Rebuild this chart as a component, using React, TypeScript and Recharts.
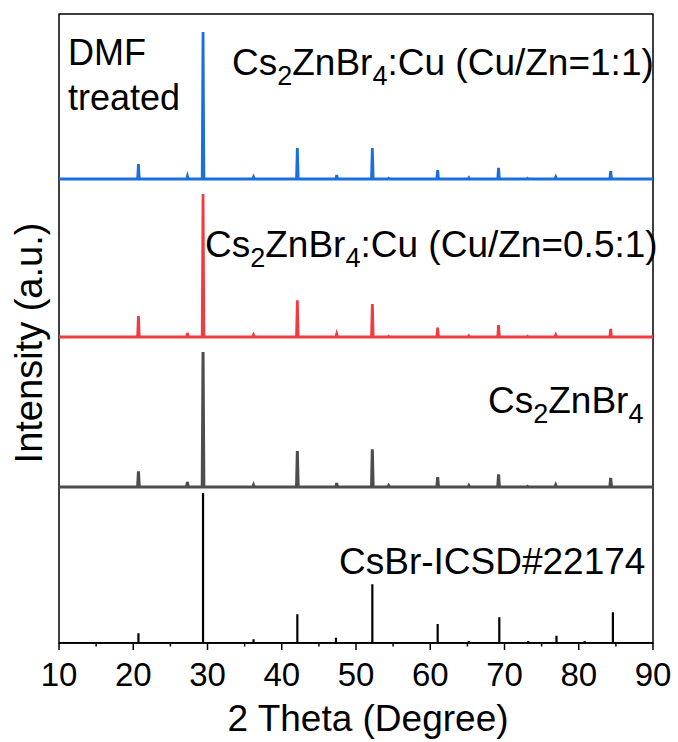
import { ComposedChart, Line, XAxis, YAxis, ReferenceArea } from 'recharts';

// peak positions (2θ) shared by the three measured patterns
const SAMPLE_POS = [20.7, 27.3, 29.4, 36.2, 42.1, 47.4, 52.2, 54.4, 61.0, 65.2, 69.2, 73.1, 76.9, 84.3];
// relative intensities, strongest peak = 100
const BLUE_INT = [10.2, 2.0, 100, 1.4, 21.1, 2.7, 21.1, 0.5, 6.1, 0.8, 7.5, 0.5, 1.4, 5.4];
const RED_INT = [14.7, 2.8, 100, 1.4, 25.7, 2.1, 23.1, 0.5, 6.6, 0.8, 8.4, 0.5, 1.4, 5.6];
const GRAY_INT = [11.6, 3.7, 100, 1.5, 26.7, 3.0, 27.9, 1.1, 7.4, 1.1, 9.4, 0.5, 1.5, 6.7];

// CsBr reference card ICSD#22174
const STICK_POS = [20.7, 29.4, 36.2, 42.1, 47.3, 52.2, 61.0, 65.2, 69.3, 73.2, 77.0, 80.8, 84.6];
const STICK_INT = [6.5, 100, 2.5, 19.2, 3.5, 39.2, 12.7, 1.3, 17.2, 1.3, 4.9, 1.3, 20.5];

const X_TICKS = [10, 15, 20, 25, 30, 35, 40, 45, 50, 55, 60, 65, 70, 75, 80, 85, 90];

// vertical stacking (offset / full scale in axis units)
const Y_MAX = 629;
const HALF_WIDTH = 0.11;
const FONT = '"Liberation Sans", Arial, sans-serif';

type Pt = { x: number; y: number };

function buildPattern(pos: number[], int: number[], base: number, full: number): Pt[] {
  const pts: Pt[] = [{ x: 10, y: base }];
  pos.forEach((p, i) => {
    pts.push({ x: p - HALF_WIDTH, y: base });
    pts.push({ x: p, y: base + (int[i] / 100) * full });
    pts.push({ x: p + HALF_WIDTH, y: base });
  });
  pts.push({ x: 90, y: base });
  return pts;
}

function buildSticks(pos: number[], int: number[], full: number): Pt[] {
  const pts: Pt[] = [{ x: 10, y: 0 }];
  pos.forEach((p, i) => {
    pts.push({ x: p, y: 0 });
    pts.push({ x: p, y: (int[i] / 100) * full });
    pts.push({ x: p, y: 0 });
  });
  pts.push({ x: 90, y: 0 });
  return pts;
}

const blueData = buildPattern(SAMPLE_POS, BLUE_INT, 464, 147);
const redData = buildPattern(SAMPLE_POS, RED_INT, 306, 143);
const grayData = buildPattern(SAMPLE_POS, GRAY_INT, 156, 135);
const stickData = buildSticks(STICK_POS, STICK_INT, 150);

function XTick(props: any) {
  const { x, y, payload } = props;
  const major = payload.value % 10 === 0;
  return (
    <g>
      <line x1={x} y1={y} x2={x} y2={y + (major ? 7 : 3.5)} stroke="#000" strokeWidth={1.5} />
      {major && (
        <text x={x} y={y + 43} textAnchor="middle" fontSize={33} fontFamily={FONT} fill="#000">
          {payload.value}
        </text>
      )}
    </g>
  );
}

function Formula({ x, y, rest }: { x: number; y: number; rest?: string }) {
  return (
    <text x={x} y={y} fontSize={37} fontFamily={FONT} fill="#000">
      <tspan>Cs</tspan>
      <tspan dy={10} fontSize={27}>2</tspan>
      <tspan dy={-10}>ZnBr</tspan>
      <tspan dy={10} fontSize={27}>4</tspan>
      {rest ? <tspan dy={-10}>{rest}</tspan> : null}
    </text>
  );
}

export default function App() {
  return (
    <div style={{ position: 'absolute', left: 0, top: 0, background: '#fff' }}>
      <ComposedChart width={678} height={742} margin={{ top: 14, right: 25, bottom: 0, left: 59 }}>
        <XAxis
          type="number"
          dataKey="x"
          domain={[10, 90]}
          ticks={X_TICKS}
          interval={0}
          height={99}
          tickLine={false}
          tickSize={0}
          tickMargin={0}
          tick={<XTick />}
          axisLine={{ stroke: '#000', strokeWidth: 1.5 }}
          allowDataOverflow
        />
        <YAxis type="number" domain={[0, Y_MAX]} hide allowDataOverflow />

        <Line data={stickData} dataKey="y" type="linear" stroke="#000" strokeWidth={2.2} dot={false} isAnimationActive={false} />
        <Line data={grayData} dataKey="y" type="linear" stroke="#4d4d4d" strokeWidth={3} dot={false} isAnimationActive={false} />
        <Line data={redData} dataKey="y" type="linear" stroke="#f03c41" strokeWidth={2.8} dot={false} isAnimationActive={false} />
        <Line data={blueData} dataKey="y" type="linear" stroke="#1a6ee0" strokeWidth={2.8} dot={false} isAnimationActive={false} />

        <ReferenceArea x1={10} x2={90} y1={0} y2={Y_MAX} fill="none" fillOpacity={0} stroke="#000" strokeWidth={1.5} />

        <text x={68} y={65} fontSize={36} fontFamily={FONT} fill="#000">DMF</text>
        <text x={68} y={110} fontSize={36} fontFamily={FONT} fill="#000">treated</text>
        <Formula x={232} y={75} rest=":Cu (Cu/Zn=1:1)" />
        <Formula x={205} y={257} rest=":Cu (Cu/Zn=0.5:1)" />
        <Formula x={488} y={413} />
        <text x={339} y={574} fontSize={37} fontFamily={FONT} fill="#000">CsBr-ICSD#22174</text>

        <text x={368} y={731} textAnchor="middle" fontSize={37} fontFamily={FONT} fill="#000">
          2 Theta (Degree)
        </text>
        <text
          x={42}
          y={343}
          textAnchor="middle"
          fontSize={38}
          fontFamily={FONT}
          fill="#000"
          transform="rotate(-90 42 343)"
        >
          Intensity (a.u.)
        </text>
      </ComposedChart>
    </div>
  );
}
